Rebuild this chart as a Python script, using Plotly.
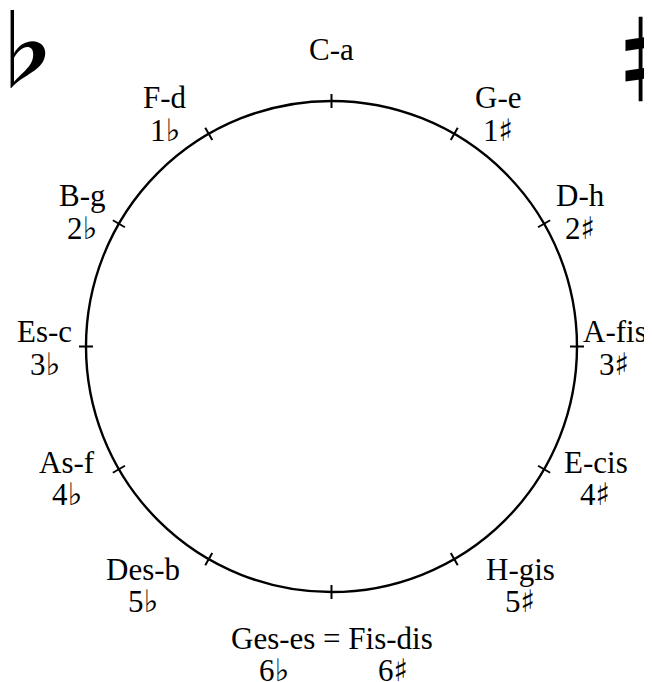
import math
import plotly.graph_objects as go

# Circle of fifths: keys (major-minor) clockwise from the top
keys = ["C-a", "G-e", "D-h", "A-fis", "E-cis", "H-gis", "Ges-es = Fis-dis",
        "Des-b", "As-f", "Es-c", "B-g", "F-d"]
sig_counts = [0, 1, 2, 3, 4, 5, 6, 5, 4, 3, 2, 1]
sig_symbols = ["", "♯", "♯", "♯", "♯", "♯", "", "♭", "♭", "♭", "♭", "♭"]
bottom_signatures = ["6♭", "6♯"]
corner_symbols = ["♭", "♯"]

# layout constants (pixels)
W, H = 652, 682
OFF = 8  # default page margin of the browser body
cx, cy, R = 331.5, 346.5, 245.5
tick_half = 7
label_angle_adj = [0, 5.5, 1.4, 0, -3.7, -8.5, 0, 8.5, 3.7, 0, -1.4, -5.5]
label_radius = [297, 287, 284, 283, 295, 303.5, 306.5, 303.5, 295, 287, 284, 287]
font_family = "Liberation Serif, serif"
sym_style = "font-family:'DejaVu Sans'"
fs = 31

fig = go.Figure()

# circle
fig.add_shape(type="circle", xref="x", yref="y",
              x0=cx - R, x1=cx + R, y0=cy - R, y1=cy + R,
              line=dict(color="black", width=2.4))

# ticks
tx, ty = [], []
for i in range(len(keys)):
    th = math.radians(30 * i)
    s, c = math.sin(th), math.cos(th)
    tx += [cx + (R - tick_half) * s, cx + (R + tick_half) * s, None]
    ty += [cy - (R - tick_half) * c, cy - (R + tick_half) * c, None]
fig.add_trace(go.Scatter(x=tx, y=ty, mode="lines",
                         line=dict(color="black", width=2), hoverinfo="skip",
                         showlegend=False))


def sig_text(n, sym):
    return f"{n}<span style=\"{sym_style}\">{sym}</span>"


txt_font = dict(family=font_family, size=fs, color="black")

# labels
for i, k in enumerate(keys):
    ph = math.radians(30 * i + label_angle_adj[i])
    rl = label_radius[i]
    lx = cx + rl * math.sin(ph)
    ly = cy - rl * math.cos(ph)
    if i == 0:
        fig.add_annotation(x=lx, y=ly, text=k, showarrow=False, font=txt_font)
        continue
    fig.add_annotation(x=lx, y=ly, yshift=15, text=k, showarrow=False, font=txt_font)
    if i == 6:
        for j, bs in enumerate(bottom_signatures):
            fig.add_annotation(x=lx, y=ly, yshift=-17, xshift=(-58 if j == 0 else 62),
                               text=sig_text(bs[0], bs[1]), showarrow=False,
                               font=txt_font)
    else:
        fig.add_annotation(x=lx, y=ly, yshift=-17,
                           text=sig_text(sig_counts[i], sig_symbols[i]),
                           showarrow=False, font=txt_font)

# big corner symbols
fig.add_annotation(x=24, y=44, text=corner_symbols[0], showarrow=False,
                   font=dict(family="Noto Sans CJK JP", size=86, color="black",
                             weight="bold"))
fig.add_annotation(x=652, y=51, xshift=-2, text=corner_symbols[1], showarrow=False,
                   font=dict(family="Noto Sans CJK JP", size=97, color="black",
                             weight="bold"))

fig.update_layout(
    width=W - OFF, height=H - OFF, margin=dict(l=0, r=0, t=0, b=0),
    paper_bgcolor="white", plot_bgcolor="white",
    xaxis=dict(range=[OFF, W], visible=False, fixedrange=True),
    yaxis=dict(range=[H, OFF], visible=False, fixedrange=True),
    showlegend=False,
)

fig.write_html("out.html")
